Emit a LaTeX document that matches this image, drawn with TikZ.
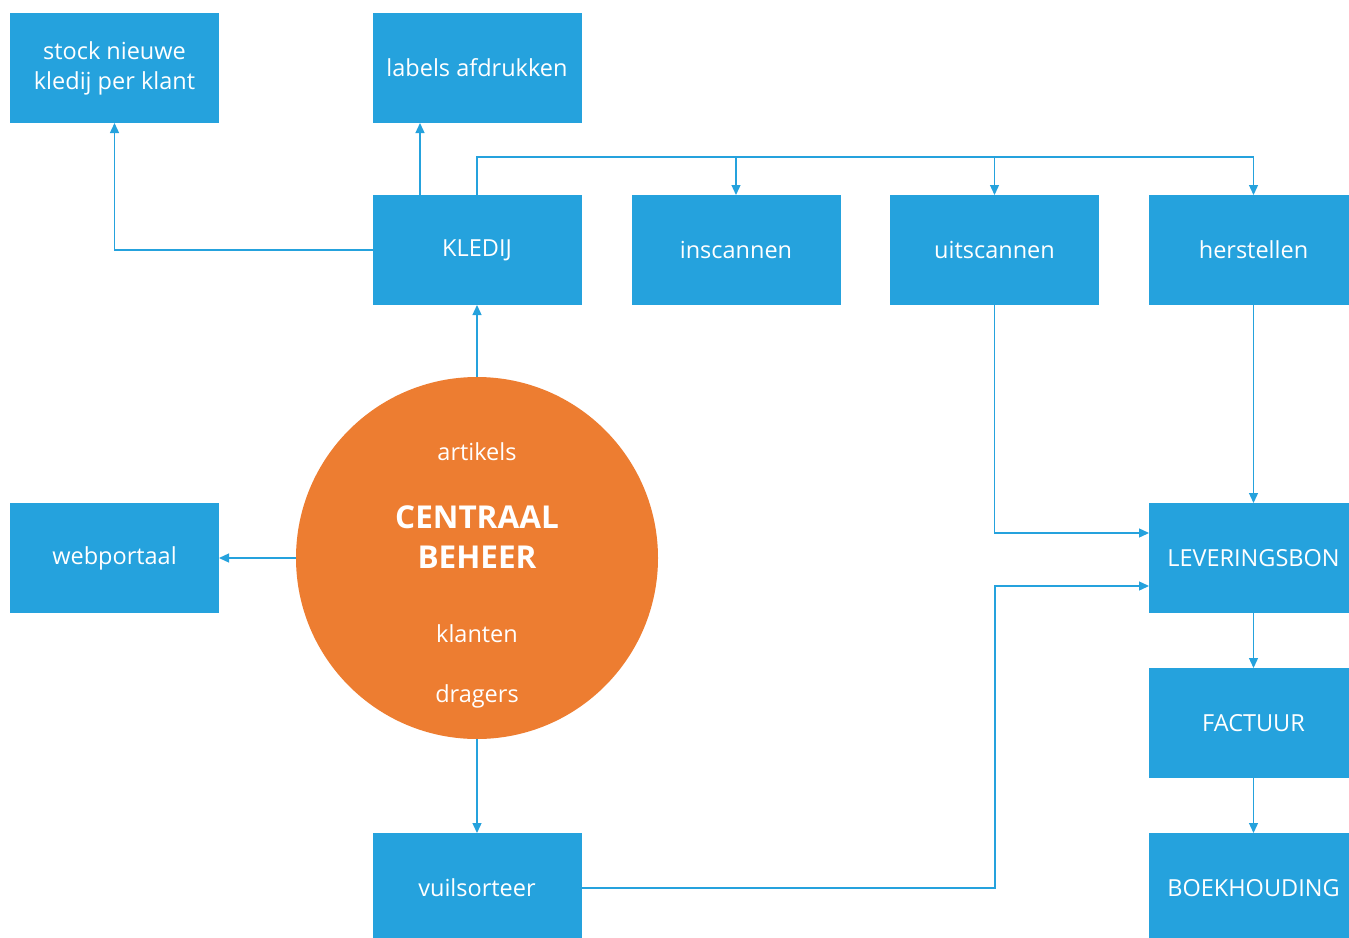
\documentclass[tikz,border=0pt]{standalone}
\usepackage{fontspec}
\setmainfont{Open Sans}
\usepackage[rgb]{xcolor}
\usetikzlibrary{arrows.meta}

\definecolor{boxblue}{HTML}{25A2DD}
\definecolor{beheerorange}{HTML}{ED7D31}

\tikzset{
  box/.style={fill=boxblue, text=white, minimum width=209pt, minimum height=110pt,
    inner sep=0pt, outer sep=0pt, align=center, font=\fontsize{23.5}{30}\selectfont},
  link/.style={draw=boxblue, line width=1.3pt, -{Triangle[length=10pt,width=9pt]}},
  intext/.style={text=white, font=\fontsize{23.5}{28}\selectfont},
  titletext/.style={text=white, align=center, font=\bfseries\fontsize{31.5}{40}\selectfont}
}

\begin{document}
\begin{tikzpicture}[x=1pt, y=-1pt]

\useasboundingbox (0,0) rectangle (1349,937);

% boxes
\node[box] (stock)  at (114.5,68)  {stock nieuwe\\kledij per klant};
\node[box] (labels) at (477,68)    {labels afdrukken};
\node[box] (kledij) at (477,250)   {KLEDIJ};
\node[box] (inscan) at (736,250)   {inscannen};
\node[box] (uitscan) at (994.5,250) {uitscannen};
\node[box] (herstel) at (1253.5,250) {herstellen};
\node[box] (web)    at (114.5,558) {webportaal};
\node[box] (lever)  at (1253.5,558) {LEVERINGSBON};
\node[box] (factuur) at (1253.5,723) {FACTUUR};
\node[box] (boek)   at (1253.5,888) {BOEKHOUDING};
\node[box] (vuil)   at (477,888)   {vuilsorteer};

% central circle
\node[circle, fill=beheerorange, minimum size=362pt, inner sep=0pt, outer sep=0pt] (beheer) at (477,558) {};
\node[intext] (artikels) at (477,452) {artikels};
\node[titletext] (titel) at (477,537) {CENTRAAL\\BEHEER};
\node[intext] (klanten) at (477,634) {klanten};
\node[intext] (dragers) at (477,696) {dragers};

% connectors
\coordinate (top) at (477,157);
\coordinate (knik) at (995,586);

\draw[link] (kledij.west) -| (stock.south);
\draw[link] ([xshift=-57pt]kledij.north) -- ([xshift=-57pt]labels.south);
\draw[link] (kledij.north) -- (top) -| (herstel.north);
\draw[link] (inscan.north |- top) -- (inscan.north);
\draw[link] (uitscan.north |- top) -- (uitscan.north);

\draw[link] (beheer.north) -- (kledij.south);
\draw[link] (beheer.west) -- (web.east);
\draw[link] (beheer.south) -- (vuil.north);

\draw[link] (uitscan.south) |- ([yshift=25pt]lever.west);
\draw[link] (vuil.east) -| (knik) -- ([yshift=-28pt]lever.west);
\draw[link] (herstel.south) -- (lever.north);
\draw[link] (lever.south) -- (factuur.north);
\draw[link] (factuur.south) -- (boek.north);

\end{tikzpicture}
\end{document}
